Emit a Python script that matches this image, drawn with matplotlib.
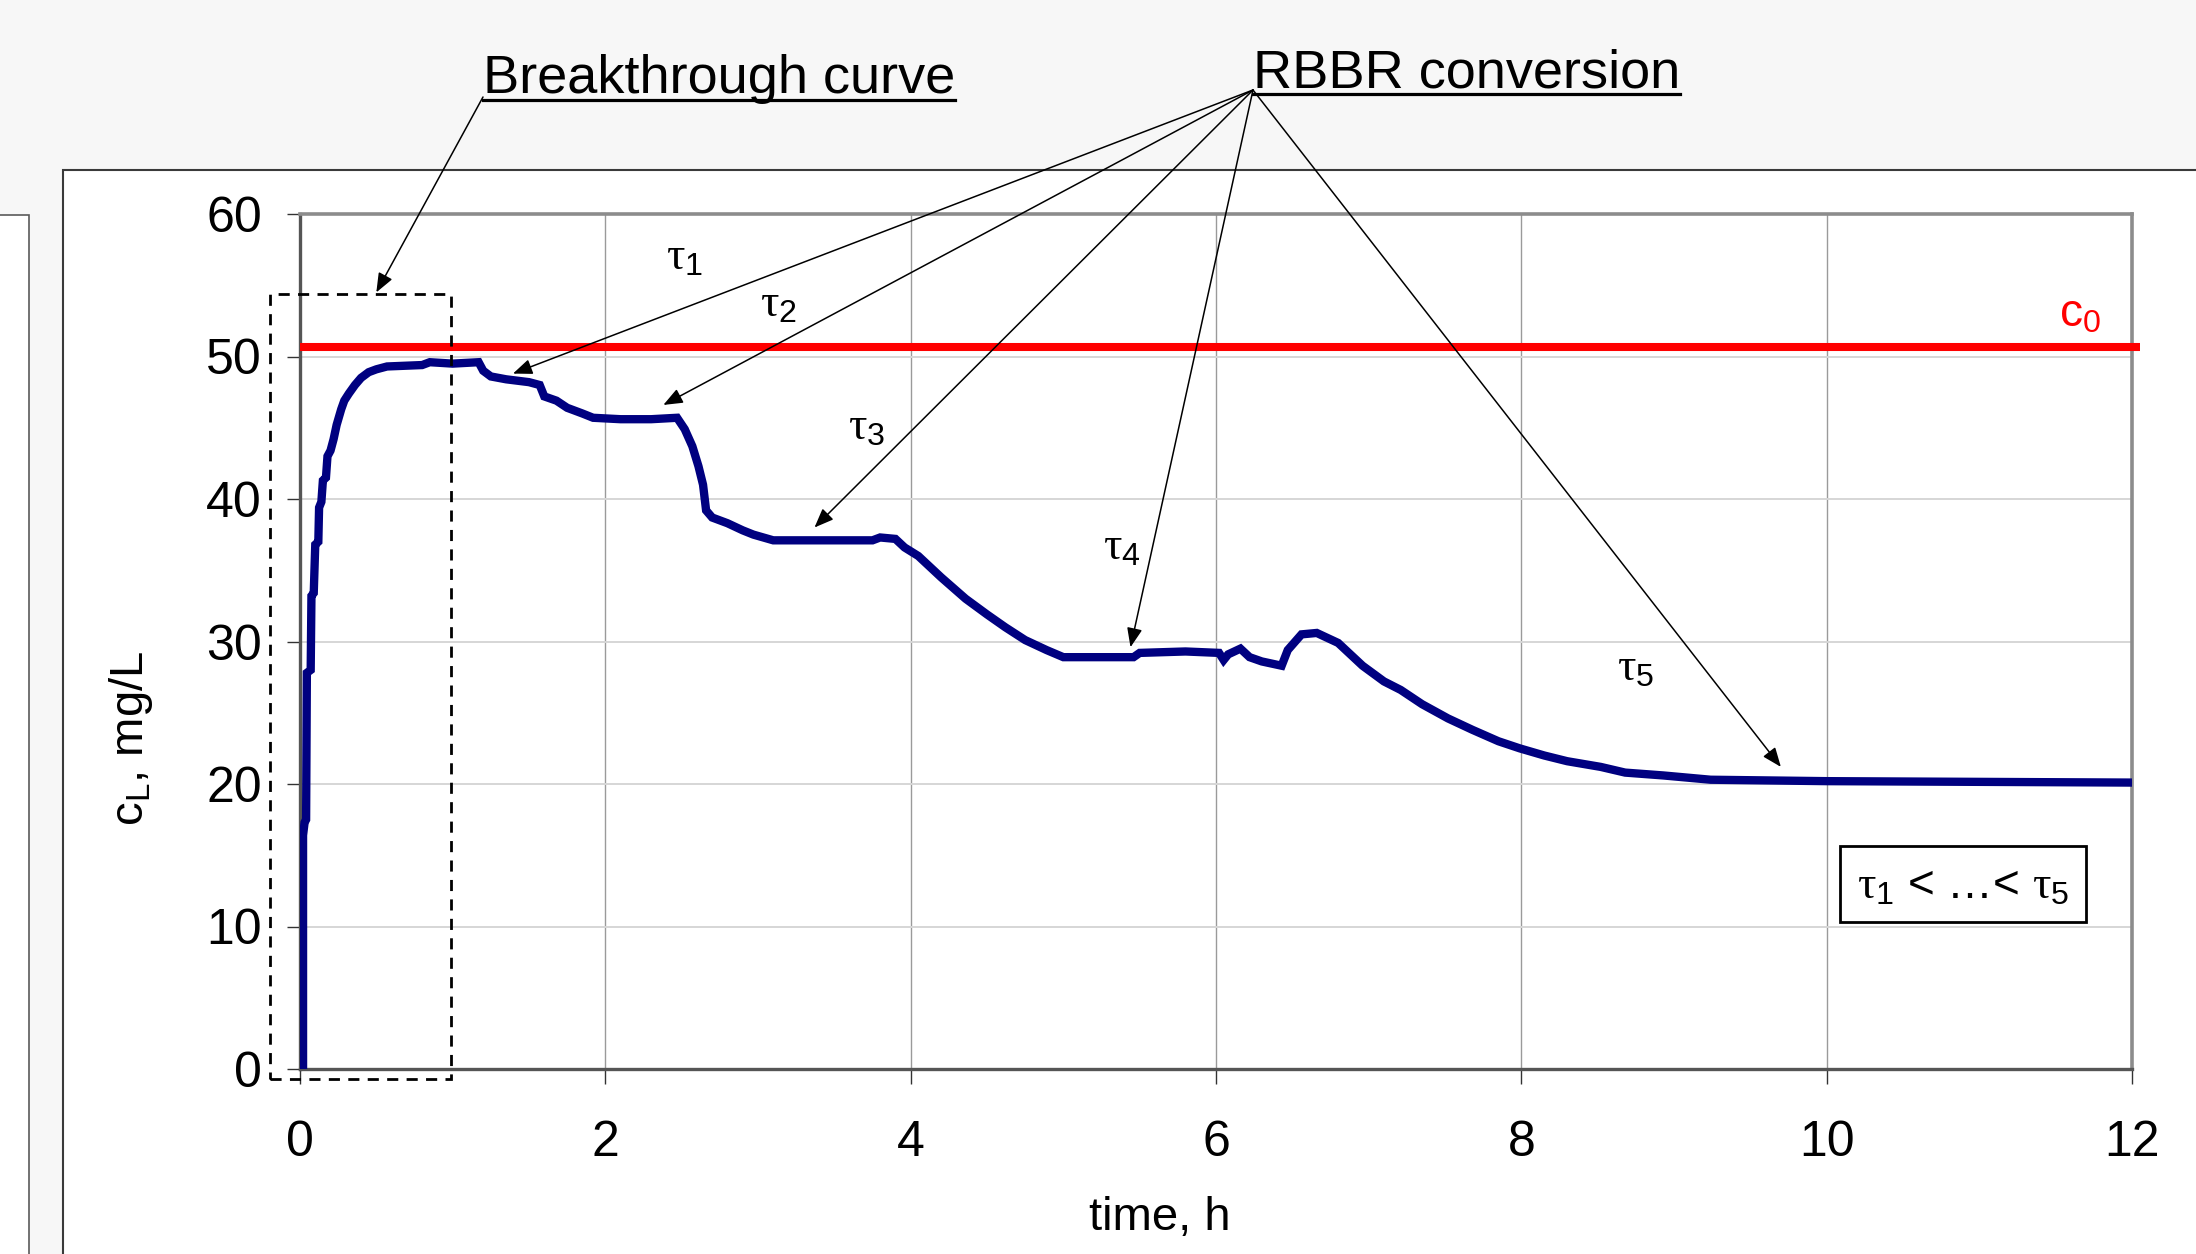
import matplotlib
matplotlib.use("Agg")
import matplotlib.pyplot as plt
import matplotlib.patches as mpatches
from matplotlib.lines import Line2D

plt.rcParams['font.family'] = ['Liberation Sans', 'DejaVu Sans']
plt.rcParams['mathtext.fontset'] = 'custom'
plt.rcParams['mathtext.rm'] = 'Liberation Sans'
plt.rcParams['mathtext.it'] = 'Liberation Serif'
plt.rcParams['mathtext.bf'] = 'Liberation Sans:bold'

# ---------------------------------------------------------------------------
# data
# ---------------------------------------------------------------------------
time_h = [0.0, 0.02, 0.02, 0.03, 0.04, 0.045, 0.07, 0.075, 0.09, 0.10, 0.12,
          0.125, 0.14, 0.15, 0.17, 0.18, 0.20, 0.22, 0.24, 0.27, 0.29, 0.32,
          0.36, 0.40, 0.45, 0.50, 0.57, 0.80, 0.85, 1.00, 1.17, 1.20, 1.25,
          1.35, 1.50, 1.57, 1.60, 1.68, 1.75, 1.85, 1.92, 2.10, 2.30, 2.47,
          2.52, 2.57, 2.61, 2.64, 2.66, 2.70, 2.80, 2.90, 2.97, 3.10, 3.50,
          3.75, 3.80, 3.90, 3.96, 4.05, 4.20, 4.36, 4.50, 4.62, 4.75, 4.89,
          5.00, 5.20, 5.46, 5.50, 5.80, 6.02, 6.05, 6.08, 6.16, 6.22, 6.30,
          6.43, 6.47, 6.56, 6.66, 6.80, 6.96, 7.10, 7.21, 7.35, 7.52, 7.68,
          7.85, 7.99, 8.15, 8.30, 8.52, 8.68, 8.93, 9.24, 10.0, 12.0]
c_L = [0.0, 0.0, 16.4, 17.3, 17.5, 27.8, 28.0, 33.2, 33.4, 36.8, 37.0,
       39.4, 39.8, 41.3, 41.5, 43.0, 43.4, 44.2, 45.2, 46.3, 46.9, 47.4,
       48.0, 48.5, 48.9, 49.1, 49.3, 49.4, 49.6, 49.5, 49.6, 49.0, 48.6,
       48.4, 48.2, 48.0, 47.2, 46.9, 46.4, 46.0, 45.7, 45.6, 45.6, 45.7,
       44.9, 43.7, 42.3, 41.0, 39.2, 38.7, 38.3, 37.8, 37.5, 37.1, 37.1,
       37.1, 37.3, 37.2, 36.6, 36.0, 34.5, 33.0, 31.9, 31.0, 30.1, 29.4,
       28.9, 28.9, 28.9, 29.2, 29.3, 29.2, 28.7, 29.1, 29.5, 28.9, 28.6,
       28.3, 29.4, 30.5, 30.6, 29.9, 28.3, 27.2, 26.6, 25.6, 24.6, 23.8,
       23.0, 22.5, 22.0, 21.6, 21.2, 20.8, 20.6, 20.3, 20.2, 20.1]
c0 = 50.7

xticks = [0, 2, 4, 6, 8, 10, 12]
yticks = [0, 10, 20, 30, 40, 50, 60]

tau_labels = [r'$\tau_1$', r'$\tau_2$', r'$\tau_3$', r'$\tau_4$', r'$\tau_5$']
tau_pos = [(2.52, 56.9), (3.13, 53.6), (3.71, 45.0), (5.38, 36.6), (8.75, 28.1)]
arrow_tips = [(1.395, 48.8), (2.38, 46.6), (3.37, 38.0), (5.44, 29.6), (9.70, 21.2)]

# ---------------------------------------------------------------------------
# figure
# ---------------------------------------------------------------------------
W, H = 2196, 1254
fig = plt.figure(figsize=(W / 100, H / 100), dpi=100, facecolor='#f7f7f7')

# panels of the slide behind the chart
fig.add_artist(mpatches.Rectangle((63 / W, -0.1), 1.2, 0.1 + 1 - 170 / H,
                                  transform=fig.transFigure, facecolor='white',
                                  edgecolor='#3a3a3a', lw=1.5, zorder=0))
fig.add_artist(mpatches.Rectangle((-0.1, -0.1), 0.1 + 29 / W, 0.1 + 1 - 215 / H,
                                  transform=fig.transFigure, facecolor='white',
                                  edgecolor='#5a5a5a', lw=1.2, zorder=0))

ax = fig.add_axes([300 / W, 1 - 1069 / H, (2132 - 300) / W, (1069 - 214) / H])
ax.set_facecolor('white')

ax.plot([0, 12.05], [c0, c0], color='#ff0000', lw=5.8, clip_on=False,
        solid_capstyle='butt', zorder=3)
ax.plot(time_h, c_L, color='#000080', lw=6, solid_joinstyle='miter', zorder=4)

ax.set_xlim(0, 12)
ax.set_ylim(0, 60)
ax.set_xticks(xticks)
ax.set_yticks(yticks)
ax.xaxis.grid(True, color='#9a9a9a', lw=1.0)
ax.yaxis.grid(True, color='#d6d6d6', lw=1.4)
ax.set_axisbelow(True)

for side in ['top', 'right']:
    ax.spines[side].set_color('#8c8c8c')
    ax.spines[side].set_linewidth(2.6)
for side in ['left', 'bottom']:
    ax.spines[side].set_color('#555555')
    ax.spines[side].set_linewidth(2.4)

ax.tick_params(axis='y', length=9.5, width=1, pad=18, labelsize=36, color='#333333')
ax.tick_params(axis='x', length=11, width=1, pad=26, labelsize=36, color='#333333')

fig.text(131 / W, 1 - 738 / H, r'$\mathrm{c_L}$, mg/L', rotation=90,
         ha='center', va='center', fontsize=34)
fig.text(1160 / W, 1 - 1218 / H, 'time, h', ha='center', va='center', fontsize=34)

# c0 label
ax.text(11.66, 52.9, r'$\mathrm{c}_0$', color='#ff0000', fontsize=33,
        ha='center', va='center')

# tau labels
for lab, (x, y) in zip(tau_labels, tau_pos):
    ax.text(x, y, lab, fontsize=33, ha='center', va='center')

# dashed box around the breakthrough part
ax.add_patch(mpatches.Rectangle((-0.197, -0.70), 1.186, 55.09, fill=False,
                                edgecolor='black', lw=2, linestyle=(0, (4, 3)),
                                clip_on=False, zorder=5))

# tau order box
ax.add_patch(mpatches.Rectangle((10.09, 10.32), 1.611, 5.33, facecolor='white',
                                edgecolor='black', lw=2, zorder=5))
ax.text(10.895, 12.8, r'$\tau_1$ < …< $\tau_5$', fontsize=33,
        ha='center', va='center', zorder=6)

# titles with underline
t1 = fig.text(483 / W, 1 - 93 / H, 'Breakthrough curve', fontsize=39,
              ha='left', va='baseline')
t2 = fig.text(1253 / W, 1 - 87 / H, 'RBBR conversion', fontsize=39,
              ha='left', va='baseline')
fig.canvas.draw()
for t, ypx in [(t1, 100), (t2, 94)]:
    bb = t.get_window_extent()
    fig.add_artist(Line2D([bb.x0 / W, bb.x1 / W], [1 - ypx / H, 1 - ypx / H],
                          transform=fig.transFigure, color='black', lw=2.3))

arrow_kw = dict(arrowstyle='-|>,head_length=0.45,head_width=0.18',
                mutation_scale=26, color='black', lw=1.1,
                shrinkA=0, shrinkB=0)

ax.annotate('', xy=(0.50, 54.5), xycoords='data',
            xytext=(483, H - 97), textcoords='figure pixels',
            arrowprops=arrow_kw, annotation_clip=False)
for tip in arrow_tips:
    ax.annotate('', xy=tip, xycoords='data',
                xytext=(1253, H - 90), textcoords='figure pixels',
                arrowprops=arrow_kw, annotation_clip=False)

fig.savefig('out.png', dpi=100, facecolor=fig.get_facecolor())
